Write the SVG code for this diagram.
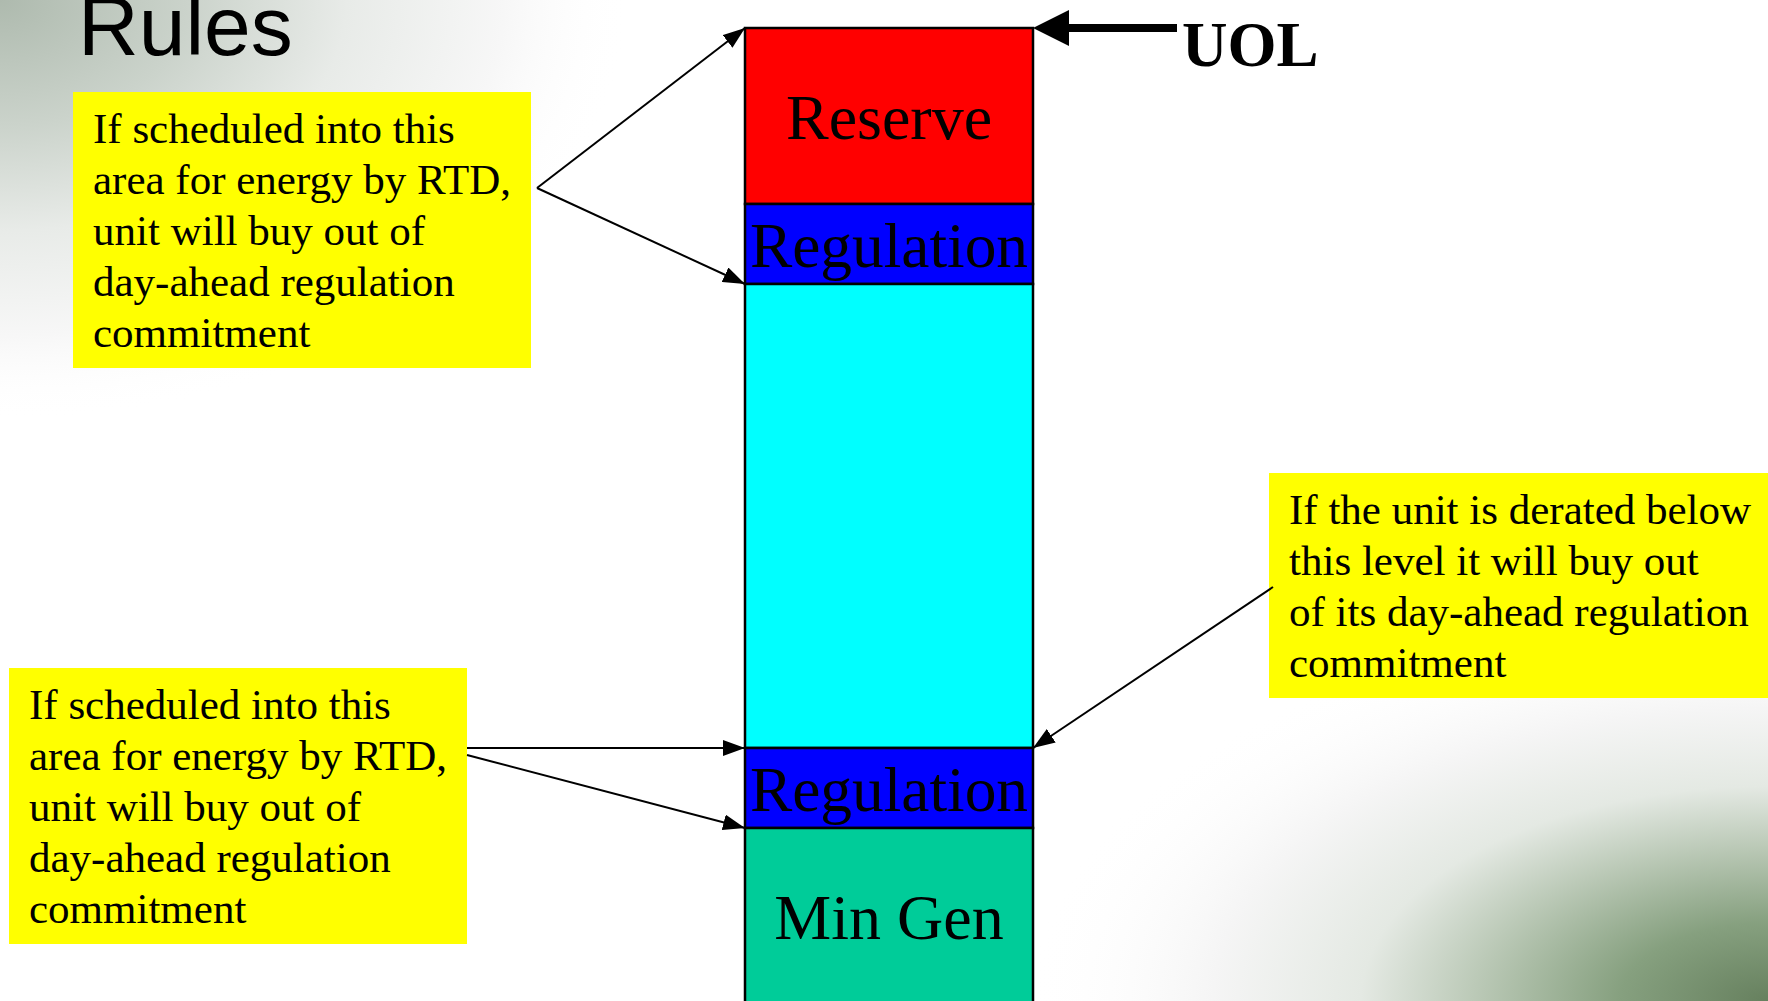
<svg xmlns="http://www.w3.org/2000/svg" width="1768" height="1001" viewBox="0 0 1768 1001">
  <defs>
    <radialGradient id="shadeTL" gradientUnits="userSpaceOnUse" cx="0" cy="0" r="1" gradientTransform="translate(0,0) scale(630,420)">
      <stop offset="0" stop-color="#aebaae"/>
      <stop offset="0.3" stop-color="#cbd3cb"/>
      <stop offset="0.55" stop-color="#e8ebe8"/>
      <stop offset="0.8" stop-color="#f7f7f7"/>
      <stop offset="1" stop-color="#ffffff" stop-opacity="0"/>
    </radialGradient>
    <radialGradient id="shadeBR" gradientUnits="userSpaceOnUse" cx="0" cy="0" r="1" gradientTransform="translate(1768,1001) scale(740,390)">
      <stop offset="0" stop-color="#66805e"/>
      <stop offset="0.2" stop-color="#86a07f"/>
      <stop offset="0.4" stop-color="#bccab8"/>
      <stop offset="0.55" stop-color="#e4e9e3"/>
      <stop offset="0.75" stop-color="#f5f5f5"/>
      <stop offset="1" stop-color="#ffffff" stop-opacity="0"/>
    </radialGradient>
    <marker id="head" markerUnits="userSpaceOnUse" markerWidth="22" markerHeight="16" refX="22" refY="8" orient="auto">
      <path d="M0,0 L22,8 L0,16 z" fill="#000"/>
    </marker>
  </defs>
  <style>
    .note { fill: #ffff00; }
    .noteText { font-family: "Liberation Serif", "Times New Roman", serif; font-size: 43px; fill: #000; }
    .band { stroke: #000; stroke-width: 2.5; }
    .bandText { font-family: "Liberation Serif", "Times New Roman", serif; font-size: 64px; fill: #000; text-anchor: middle; }
    .link { stroke: #000; stroke-width: 2; fill: none; }
  </style>

  <!-- background -->
  <rect x="0" y="0" width="1768" height="1001" fill="#ffffff"/>
  <rect x="0" y="0" width="1768" height="1001" fill="url(#shadeTL)"/>
  <rect x="0" y="0" width="1768" height="1001" fill="url(#shadeBR)"/>

  <g id="title">
    <text x="78" y="55" font-family="Liberation Sans, Arial, sans-serif" font-size="84" fill="#000">Rules</text>
  </g>

  <!-- capacity column -->
  <g id="reserve">
    <rect class="band" x="745" y="28" width="288" height="176" fill="#ff0000"/>
    <text class="bandText" x="889" y="139">Reserve</text>
  </g>
  <g id="regulation-upper">
    <rect class="band" x="745" y="204" width="288" height="80" fill="#0000ff"/>
    <text class="bandText" x="889" y="267" textLength="278" lengthAdjust="spacingAndGlyphs">Regulation</text>
  </g>
  <g id="energy-band">
    <rect class="band" x="745" y="284" width="288" height="464" fill="#00ffff"/>
  </g>
  <g id="regulation-lower">
    <rect class="band" x="745" y="748" width="288" height="80" fill="#0000ff"/>
    <text class="bandText" x="889" y="811" textLength="278" lengthAdjust="spacingAndGlyphs">Regulation</text>
  </g>
  <g id="min-gen">
    <rect class="band" x="745" y="828" width="288" height="180" fill="#00cc99"/>
    <text class="bandText" x="889" y="939">Min Gen</text>
  </g>

  <g id="uol-label">
    <text x="1182" y="66" font-family="Liberation Serif, 'Times New Roman', serif" font-size="63" font-weight="bold" fill="#000">UOL</text>
  </g>

  <!-- note boxes -->
  <g id="note-upper">
    <rect class="note" x="73" y="92" width="458" height="276"/>
    <text class="noteText">
      <tspan x="93" y="143">If scheduled into this</tspan>
      <tspan x="93" y="194">area for energy by RTD,</tspan>
      <tspan x="93" y="245">unit will buy out of</tspan>
      <tspan x="93" y="296">day-ahead regulation</tspan>
      <tspan x="93" y="347">commitment</tspan>
    </text>
  </g>
  <g id="note-lower">
    <rect class="note" x="9" y="668" width="458" height="276"/>
    <text class="noteText">
      <tspan x="29" y="719">If scheduled into this</tspan>
      <tspan x="29" y="770">area for energy by RTD,</tspan>
      <tspan x="29" y="821">unit will buy out of</tspan>
      <tspan x="29" y="872">day-ahead regulation</tspan>
      <tspan x="29" y="923">commitment</tspan>
    </text>
  </g>
  <g id="note-derate">
    <rect class="note" x="1269" y="473" width="499" height="225"/>
    <text class="noteText">
      <tspan x="1289" y="524">If the unit is derated below</tspan>
      <tspan x="1289" y="575">this level it will buy out</tspan>
      <tspan x="1289" y="626">of its day-ahead regulation</tspan>
      <tspan x="1289" y="677">commitment</tspan>
    </text>
  </g>

  <!-- connectors -->
  <g id="connectors">
    <line class="link" x1="537" y1="188" x2="745" y2="28" marker-end="url(#head)"/>
    <line class="link" x1="537" y1="188" x2="745" y2="284" marker-end="url(#head)"/>
    <line class="link" x1="467" y1="748" x2="745" y2="748" marker-end="url(#head)"/>
    <line class="link" x1="467" y1="755" x2="745" y2="828" marker-end="url(#head)"/>
    <line class="link" x1="1273" y1="587" x2="1033" y2="748" marker-end="url(#head)"/>
    <line x1="1177" y1="28" x2="1066" y2="28" stroke="#000" stroke-width="8"/>
    <path d="M1033,28 L1069,10 L1069,46 z" fill="#000"/>
  </g>
</svg>
